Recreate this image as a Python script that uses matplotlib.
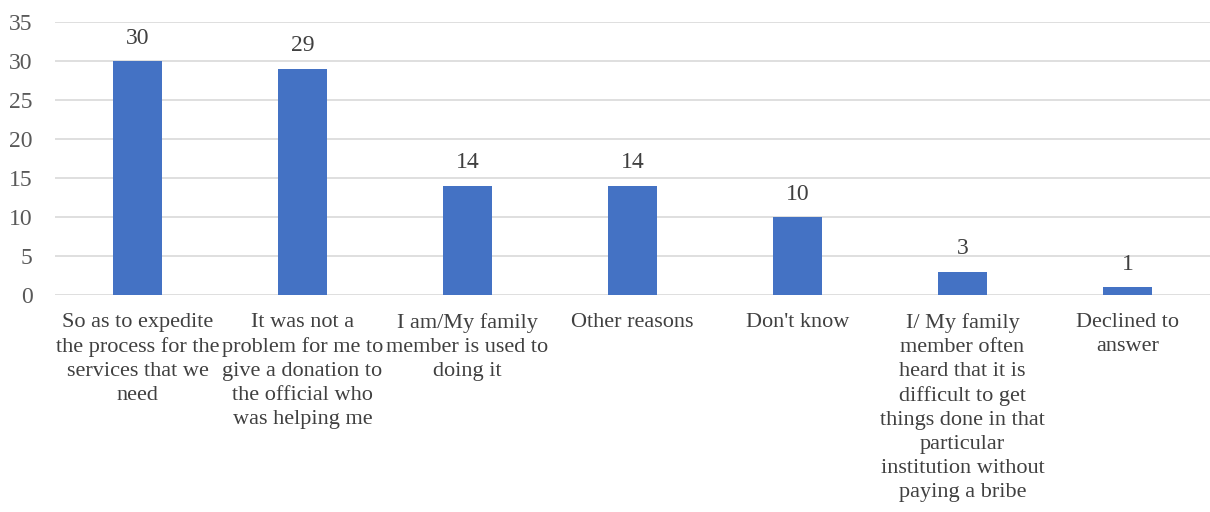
import numpy as np
import matplotlib.pyplot as plt

# data
categories = [
    "So as to expedite\nthe process for the\nservices that we\nneed",
    "It was not a\nproblem for me to\ngive a donation to\nthe official who\nwas helping me",
    "I am/My family\nmember is used to\ndoing it",
    "Other reasons",
    "Don't know",
    "I/ My family\nmember often\nheard that it is\ndifficult to get\nthings done in that\nparticular\ninstitution without\npaying a bribe",
    "Declined to\nanswer",
]
values = [30, 29, 14, 14, 10, 3, 1]
yticks = [0, 5, 10, 15, 20, 25, 30, 35]

plt.rcParams['font.family'] = ['Liberation Serif', 'DejaVu Serif']

fig = plt.figure(figsize=(12.1, 5.12), dpi=100)
ax = fig.add_axes([55 / 1210, 1 - 295 / 512, 1155 / 1210, 273 / 512])

x = np.arange(len(values))
bars = ax.bar(x, values, width=0.3, color='#4472C4', zorder=3)

for xi, v in zip(x, values):
    ax.annotate(str(v), (xi, v), xytext=(0, 9), textcoords='offset points',
                ha='center', va='bottom', fontsize=17, color='#404040')

ax.set_xlim(-0.5, len(values) - 0.5)
ax.set_ylim(0, 35)
ax.set_yticks(yticks)
ax.set_xticks(x)
ax.set_xticklabels(categories, fontsize=16, color='#404040', linespacing=1.36)
ax.tick_params(axis='y', labelsize=17, labelcolor='#595959', length=0, pad=16)
ax.tick_params(axis='x', length=0, pad=13)
ax.grid(axis='y', color='#D9D9D9', linewidth=1.2, zorder=0)
for s in ax.spines.values():
    s.set_visible(False)

fig.savefig('out.png', dpi=100)
